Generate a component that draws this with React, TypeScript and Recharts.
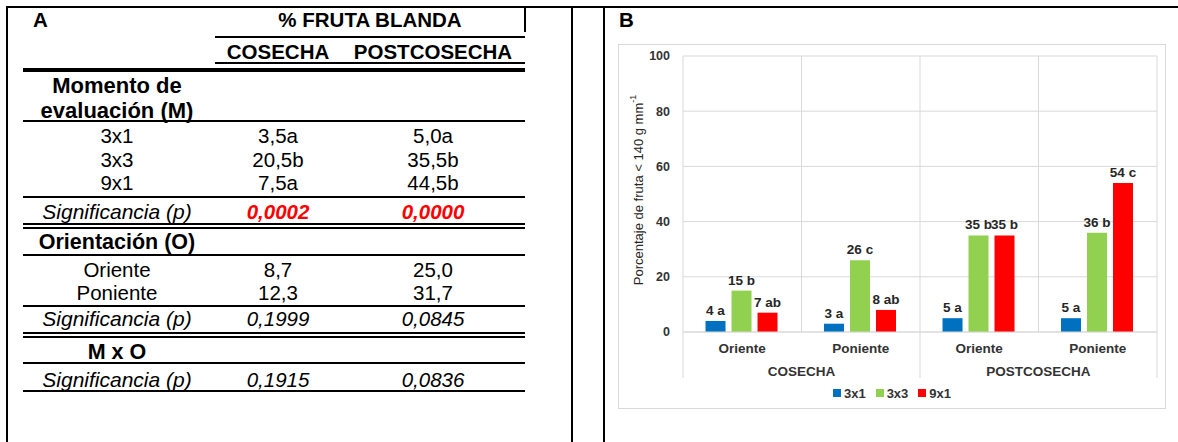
import React from "react";
import {
  BarChart,
  Bar,
  XAxis,
  YAxis,
  CartesianGrid,
  LabelList,
  Legend,
  Label,
} from "recharts";

// panel A: table values
const tableColumns = ["COSECHA", "POSTCOSECHA"];
const momentoRows = ["3x1", "3x3", "9x1"];
const momentoCosecha = ["3,5a", "20,5b", "7,5a"];
const momentoPost = ["5,0a", "35,5b", "44,5b"];
const momentoSig = ["0,0002", "0,0000"];
const orientRows = ["Oriente", "Poniente"];
const orientCosecha = ["8,7", "12,3"];
const orientPost = ["25,0", "31,7"];
const orientSig = ["0,1999", "0,0845"];
const interSig = ["0,1915", "0,0836"];

// panel B: chart values
const categories = ["Oriente", "Poniente", "Oriente", "Poniente"];
const groups = ["COSECHA", "COSECHA", "POSTCOSECHA", "POSTCOSECHA"];
const seriesNames = ["3x1", "3x3", "9x1"];
const seriesColors = ["#0070C0", "#92D050", "#FF0000"];
const values3x1 = [4, 3, 5, 5];
const values3x3 = [15, 26, 35, 36];
const values9x1 = [7, 8, 35, 54];
const labels3x1 = ["4 a", "3 a", "5 a", "5 a"];
const labels3x3 = ["15 b", "26 c", "35 b", "36 b"];
const labels9x1 = ["7 ab", "8 ab", "35 b", "54 c"];
const yTicks = [0, 20, 40, 60, 80, 100];

const chartData = categories.map((cat, i) => ({
  cat,
  group: groups[i],
  s1: values3x1[i],
  s2: values3x3[i],
  s3: values9x1[i],
  l1: labels3x1[i],
  l2: labels3x3[i],
  l3: labels9x1[i],
}));

const FONT = "'Liberation Sans', Arial, Helvetica, sans-serif";
const GRID = "#d9d9d9";
const INK = "#333333";

// table column centres
const COL_LABEL = 117;
const COL_C = 278;
const COL_P = 433;

function Cell({ cx, cy, children, style }: any) {
  return (
    <div
      style={{
        position: "absolute",
        left: cx - 120,
        width: 240,
        top: cy - 13,
        height: 26,
        lineHeight: "26px",
        textAlign: "center",
        whiteSpace: "nowrap",
        ...style,
      }}
    >
      {children}
    </div>
  );
}

function HLine({ y, x1 = 23, x2 = 525, h = 2 }: any) {
  return (
    <div
      style={{
        position: "absolute",
        left: x1,
        width: x2 - x1,
        top: y,
        height: h,
        background: "#000",
      }}
    />
  );
}

function VLine({ x, y1 = 6, y2 = 442, w = 2 }: any) {
  return (
    <div
      style={{
        position: "absolute",
        left: x,
        width: w,
        top: y1,
        height: y2 - y1,
        background: "#000",
      }}
    />
  );
}

const bold = { fontWeight: 700 };
const rowHead = { fontWeight: 700, fontSize: 21.5 };
const italic = { fontStyle: "italic", fontSize: 21 };
const redSig = { fontWeight: 700, fontStyle: "italic", color: "#FF0000" };

function TableA() {
  const rowY = [136, 159.5, 183];
  const orientY = [270, 293];
  return (
    <div style={{ position: "absolute", left: 0, top: 0, fontSize: 20.5 }}>
      <div style={{ position: "absolute", left: 33, top: 7, lineHeight: "26px", ...bold }}>A</div>
      <Cell cx={370} cy={20} style={bold}>% FRUTA BLANDA</Cell>
      <VLine x={524} y1={6} y2={32} />
      <HLine y={36} x1={215} />
      <Cell cx={COL_C} cy={52} style={bold}>{tableColumns[0]}</Cell>
      <Cell cx={COL_P} cy={52} style={bold}>{tableColumns[1]}</Cell>
      <HLine y={62} x1={215} />
      <HLine y={68} h={4} />

      <div
        style={{
          position: "absolute",
          left: COL_LABEL - 120,
          width: 240,
          top: 73,
          lineHeight: "25px",
          textAlign: "center",
          ...rowHead,
          fontSize: 22,
        }}
      >
        Momento de
        <br />
        evaluación (M)
      </div>
      <HLine y={120} />
      {momentoRows.map((r, i) => (
        <React.Fragment key={r}>
          <Cell cx={COL_LABEL} cy={rowY[i]}>{r}</Cell>
          <Cell cx={COL_C} cy={rowY[i]}>{momentoCosecha[i]}</Cell>
          <Cell cx={COL_P} cy={rowY[i]}>{momentoPost[i]}</Cell>
        </React.Fragment>
      ))}
      <HLine y={196} />
      <Cell cx={COL_LABEL} cy={212} style={italic}>Significancia (p)</Cell>
      <Cell cx={COL_C} cy={212} style={redSig}>{momentoSig[0]}</Cell>
      <Cell cx={COL_P} cy={212} style={redSig}>{momentoSig[1]}</Cell>
      <HLine y={223} />
      <HLine y={227} />

      <Cell cx={COL_LABEL} cy={242} style={rowHead}>Orientación (O)</Cell>
      <HLine y={254} />
      {orientRows.map((r, i) => (
        <React.Fragment key={r}>
          <Cell cx={COL_LABEL} cy={orientY[i]}>{r}</Cell>
          <Cell cx={COL_C} cy={orientY[i]}>{orientCosecha[i]}</Cell>
          <Cell cx={COL_P} cy={orientY[i]}>{orientPost[i]}</Cell>
        </React.Fragment>
      ))}
      <HLine y={305} />
      <Cell cx={COL_LABEL} cy={319} style={italic}>Significancia (p)</Cell>
      <Cell cx={COL_C} cy={319} style={{ fontStyle: "italic" }}>{orientSig[0]}</Cell>
      <Cell cx={COL_P} cy={319} style={{ fontStyle: "italic" }}>{orientSig[1]}</Cell>
      <HLine y={332} />
      <HLine y={336} />

      <Cell cx={COL_LABEL} cy={352} style={rowHead}>M x O</Cell>
      <HLine y={362} />
      <Cell cx={COL_LABEL} cy={380} style={italic}>Significancia (p)</Cell>
      <Cell cx={COL_C} cy={380} style={{ fontStyle: "italic" }}>{interSig[0]}</Cell>
      <Cell cx={COL_P} cy={380} style={{ fontStyle: "italic" }}>{interSig[1]}</Cell>
      <HLine y={390} />
    </div>
  );
}

const CHART_W = 546;
const CHART_H = 363;
const MARGIN = { top: 11, right: 8, left: 10, bottom: 4 };

function CategoryTick(props: any) {
  const { x, y, payload, index } = props;
  const plotW = CHART_W - MARGIN.left - 54 - MARGIN.right;
  const half = payload && payload.offset ? payload.offset : plotW / categories.length / 2;
  return (
    <g>
      <text x={x} y={y + 20.5} textAnchor="middle" fontSize={13.5} fontWeight={700} fill={INK}>
        {payload.value}
      </text>
      {index % 2 === 0 && (
        <text x={x + half} y={y + 43.5} textAnchor="middle" fontSize={13.5} fontWeight={700} fill={INK}>
          {groups[index]}
        </text>
      )}
      {index === 0 && <line x1={x - half} x2={x - half} y1={y} y2={y + 46} stroke={GRID} />}
      {index % 2 === 1 && <line x1={x + half} x2={x + half} y1={y} y2={y + 46} stroke={GRID} />}
    </g>
  );
}

// bar value label, kept on one line
function BarLabel(props: any) {
  const { x, y, width, value } = props;
  if (value == null) return null;
  return (
    <text
      x={Number(x) + Number(width) / 2}
      y={Number(y) - 6}
      textAnchor="middle"
      fontSize={13.5}
      fontWeight={700}
      fill="#262626"
    >
      {value}
    </text>
  );
}

function AxisTitle(props: any) {
  const vb = props.viewBox || { x: 10, y: 11, width: 54, height: 276 };
  const cx = vb.x + 9;
  const cy = vb.y + vb.height / 2 - 4;
  return (
    <text
      x={cx}
      y={cy}
      transform={`rotate(-90, ${cx}, ${cy})`}
      textAnchor="middle"
      dominantBaseline="central"
      fontSize={13}
      fill="#262626"
    >
      Porcentaje de fruta &lt; 140 g mm
      <tspan dy={-5} fontSize={9}>-1</tspan>
    </text>
  );
}

function LegendBox({ payload }: any) {
  return (
    <div
      style={{
        height: 22,
        display: "flex",
        justifyContent: "center",
        alignItems: "center",
        gap: 10,
        fontFamily: FONT,
      }}
    >
      {(payload || []).map((p: any) => (
        <span key={p.value} style={{ display: "flex", alignItems: "center" }}>
          <span style={{ width: 8, height: 8, background: p.color, marginRight: 3 }} />
          <span style={{ fontSize: 13, fontWeight: 700, color: INK }}>{p.value}</span>
        </span>
      ))}
    </div>
  );
}

function ChartB() {
  return (
    <div
      style={{
        position: "absolute",
        left: 618,
        top: 44,
        width: CHART_W + 2,
        height: CHART_H + 2,
        border: `1px solid ${GRID}`,
        boxSizing: "border-box",
        background: "#fff",
      }}
    >
      <BarChart
        width={CHART_W}
        height={CHART_H}
        data={chartData}
        margin={MARGIN}
        barCategoryGap="19%"
        barGap={6}
      >
        <CartesianGrid
          stroke={GRID}
          verticalCoordinatesGenerator={({ offset }: any) =>
            categories.concat([""]).map((_, i) => offset.left + (i * offset.width) / categories.length)
          }
        />
        <XAxis
          dataKey="cat"
          interval={0}
          tickLine={false}
          tickSize={0}
          tickMargin={0}
          axisLine={{ stroke: GRID }}
          height={50}
          tick={<CategoryTick />}
        />
        <YAxis
          width={54}
          domain={[0, 100]}
          ticks={yTicks}
          axisLine={false}
          tickLine={false}
          tickSize={6}
          tickMargin={7}
          tick={{ fontSize: 12.5, fontWeight: 700, fill: INK }}
        >
          <Label content={<AxisTitle />} />
        </YAxis>
        <Legend
          verticalAlign="bottom"
          align="center"
          wrapperStyle={{ left: 0, width: CHART_W, bottom: 4 }}
          content={<LegendBox />}
        />
        <Bar dataKey="s1" name={seriesNames[0]} fill={seriesColors[0]} isAnimationActive={false}>
          <LabelList dataKey="l1" content={<BarLabel />} />
        </Bar>
        <Bar dataKey="s2" name={seriesNames[1]} fill={seriesColors[1]} isAnimationActive={false}>
          <LabelList dataKey="l2" content={<BarLabel />} />
        </Bar>
        <Bar dataKey="s3" name={seriesNames[2]} fill={seriesColors[2]} isAnimationActive={false}>
          <LabelList dataKey="l3" content={<BarLabel />} />
        </Bar>
      </BarChart>
    </div>
  );
}

export default function App() {
  return (
    <div
      style={{
        position: "relative",
        width: 1178,
        height: 442,
        overflow: "hidden",
        background: "#fff",
        fontFamily: FONT,
        color: "#000",
      }}
    >
      <style>{"body{margin:0}"}</style>
      {/* outer frame */}
      <div style={{ position: "absolute", left: 6, top: 6, width: 1172, height: 2, background: "#000" }} />
      <VLine x={6} />
      <VLine x={571} />
      <VLine x={603} />
      <TableA />
      <div
        style={{
          position: "absolute",
          left: 619,
          top: 7,
          lineHeight: "26px",
          fontSize: 20.5,
          fontWeight: 700,
        }}
      >
        B
      </div>
      <ChartB />
    </div>
  );
}
